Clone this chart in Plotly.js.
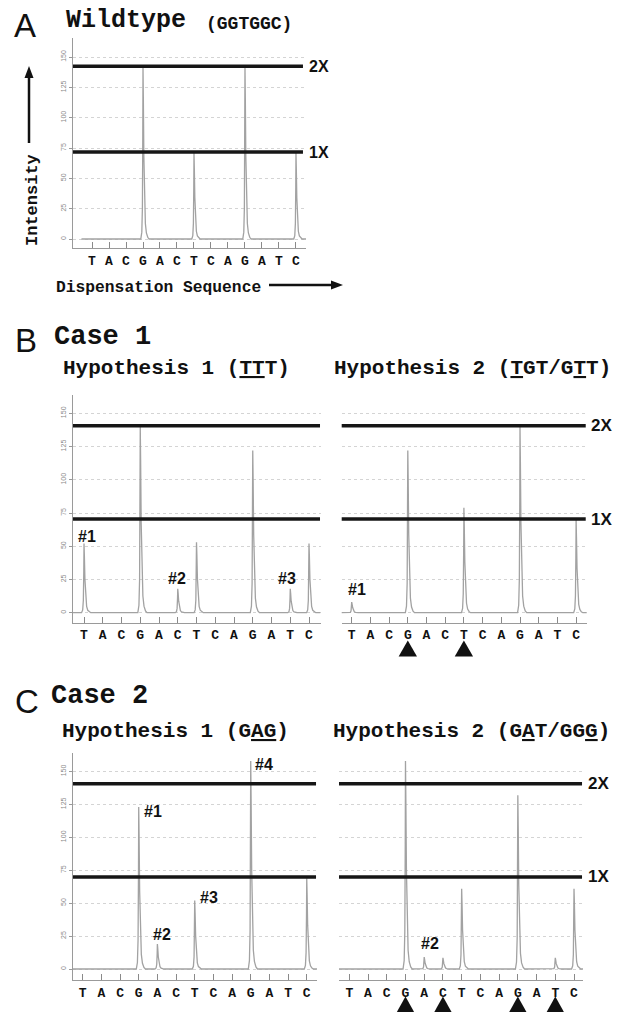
<!DOCTYPE html>
<html><head><meta charset="utf-8">
<script src="https://cdn.plot.ly/plotly-3.0.1.min.js"></script>
<style>html,body{margin:0;padding:0;background:#fff}#chart{width:622px;height:1012px}</style>
</head><body><div id="chart"></div>
<script>
// ---------------- data ----------------
const dispensation = ['T','A','C','G','A','C','T','C','A','G','A','T','C'];
const wildtypePeaks  = [0,0,0,142,0,0,71,0,0,142,0,0,71];
const case1Hyp1Peaks = [52,0,0,140,0,18,53,0,0,122,0,18,52];
const case1Hyp2Peaks = [8,0,0,122,0,0,79,0,0,140,0,0,70];
const case2Hyp1Peaks = [0,0,0,123,19,0,52,0,0,158,0,0,69];
const case2Hyp2Peaks = [0,0,0,158,9,8.5,61,0,0,132,0,8.5,61];
const intensityTicks = [0,25,50,75,100,125,150];
const level2X = [142.5, 140.7, 140.7, 140.7, 140.7];
const level1X = [71.7, 70.5, 70.5, 69.9, 69.9];
const case1Hyp1Labels = ['#1','#2','#3'];
const case1Hyp1LabelAt = [0,5,11];
const case1Hyp2Labels = ['#1'];
const case1Hyp2LabelAt = [0];
const case2Hyp1Labels = ['#1','#2','#3','#4'];
const case2Hyp1LabelAt = [3,4,6,9];
const case2Hyp2Labels = ['#2'];
const case2Hyp2LabelAt = [4];
const case1Hyp2Marked = [3,6];
const case2Hyp2Marked = [3,5,9,11];

// ---------------- style ----------------
const W = 622, H = 1012;
const MONO = "'Courier New', 'Liberation Mono', monospace";
const SANS = "Arial, 'Liberation Sans', Helvetica, sans-serif";
const PEAK_SHAPE = [[-0.13,0],[-0.07,0.04],[-0.035,0.18],[-0.012,0.6],[0,1],[0.02,0.82],[0.05,0.48],[0.09,0.22],[0.14,0.09],[0.2,0.035],[0.28,0.01],[0.36,0]];

function px(x){return x/W;}
function py(y){return 1-y/H;}
function pathPx(pts){return pts.map((p,i)=>(i?'L ':'M ')+px(p[0]).toFixed(5)+','+py(p[1]).toFixed(5)).join(' ')+' Z';}

function curve(heights, n){
  const xs=[-0.62], ys=[0];
  heights.forEach((h,i)=>{ if(h>0){ PEAK_SHAPE.forEach(([dx,f])=>{xs.push(i+dx); ys.push(h*f);}); } });
  xs.push(12.6); ys.push(0);
  return {type:'scatter', mode:'lines', x:xs, y:ys, xaxis:'x'+(n>1?n:''), yaxis:'y'+(n>1?n:''),
    line:{color:'#a2a2a2', width:1.3}, hoverinfo:'skip', showlegend:false};
}

// panel geometry in pixels: [left, right, top, bottom], x range, y range
const panels = [
  {peaks:wildtypePeaks,  box:[73,306,38,248],     xr:[-1.118,12.59], yr:[-7.4,165.7], yaxisShown:true},
  {peaks:case1Hyp1Peaks, box:[73,321,395,622.7],  xr:[-0.587,12.64], yr:[-7.52,163.8], yaxisShown:true},
  {peaks:case1Hyp2Peaks, box:[341.7,586.7,395,622.7], xr:[-0.535,12.567], yr:[-7.52,163.8], yaxisShown:false},
  {peaks:case2Hyp1Peaks, box:[73,317,753.3,980],  xr:[-0.52,12.55], yr:[-8.35,163.8], yaxisShown:true},
  {peaks:case2Hyp2Peaks, box:[339,583,753.3,980], xr:[-0.55,12.48], yr:[-8.35,163.8], yaxisShown:false}
];

const data = panels.map((p,i)=>curve(p.peaks, i+1));
const layout = {
  width:W, height:H, margin:{l:0,r:0,t:0,b:0},
  paper_bgcolor:'#fff', plot_bgcolor:'#fff', showlegend:false,
  shapes:[], annotations:[]
};

panels.forEach((p,i)=>{
  const n = i+1, s = n>1?n:'';
  layout['xaxis'+s] = {
    domain:[px(p.box[0]), px(p.box[1])], range:p.xr, anchor:'y'+s,
    tickmode:'array', tickvals:dispensation.map((d,k)=>k), ticktext:dispensation,
    ticks:'inside', ticklen:6, tickcolor:'#8a8a8a', tickwidth:1,
    showline:true, linecolor:'#9a9a9a', linewidth:1, showgrid:false, zeroline:false,
    tickfont:{family:MONO, size:13, color:'#111', weight:'bold'}, fixedrange:true
  };
  layout['yaxis'+s] = {
    domain:[py(p.box[3]), py(p.box[2])], range:p.yr, anchor:'x'+s,
    tickmode:'array', tickvals:intensityTicks,
    showgrid:true, gridcolor:'#d4d4d4', griddash:'dot', gridwidth:1, zeroline:false,
    showline:p.yaxisShown, linecolor:'#9a9a9a', linewidth:1,
    ticks:p.yaxisShown?'outside':'', ticklen:3, tickcolor:'#9a9a9a',
    showticklabels:p.yaxisShown, tickangle:-90,
    tickfont:{family:SANS, size:7, color:'#8a8a8a'}, fixedrange:true
  };
  const x1 = i===0 ? 0.987 : 0.996;
  [level2X[i], level1X[i]].forEach(v=>{
    layout.shapes.push({type:'line', xref:'x'+s+' domain', yref:'y'+s, x0:0, x1:x1, y0:v, y1:v,
      line:{color:'#161616', width:3.5}});
  });
});

// level labels
function levelLabel(text, xPx, n, v, size){
  const s = n>1?n:'';
  layout.annotations.push({text:'<b>'+text+'</b>', xref:'paper', yref:'y'+s, x:px(xPx), y:v,
    xanchor:'left', yanchor:'middle', showarrow:false, font:{family:SANS, size:size, color:'#111'}});
}
levelLabel('2X', 307, 1, level2X[0], 16); levelLabel('1X', 307, 1, level1X[0], 16);
levelLabel('2X', 589, 3, level2X[2], 17); levelLabel('1X', 589, 3, level1X[2], 17);
levelLabel('2X', 586, 5, level2X[4], 17); levelLabel('1X', 586, 5, level1X[4], 17);

// peak labels (pixel offsets from peak tip)
function peakLabels(texts, at, n, peaks, shifts){
  const s = n>1?n:'';
  texts.forEach((t,k)=>{
    layout.annotations.push({text:'<b>'+t+'</b>', xref:'x'+s, yref:'y'+s, x:at[k], y:peaks[at[k]],
      xanchor:'center', yanchor:'middle', xshift:shifts[k][0], yshift:shifts[k][1], showarrow:false,
      font:{family:SANS, size:16, color:'#111'}});
  });
}
peakLabels(case1Hyp1Labels, case1Hyp1LabelAt, 2, case1Hyp1Peaks, [[3,7.5],[-0.5,10],[-3,10]]);
peakLabels(case1Hyp2Labels, case1Hyp2LabelAt, 3, case1Hyp2Peaks, [[5,12.5]]);
peakLabels(case2Hyp1Labels, case2Hyp1LabelAt, 4, case2Hyp1Peaks, [[14.3,-4.7],[5,9],[14,3],[13.3,-4]]);
peakLabels(case2Hyp2Labels, case2Hyp2LabelAt, 5, case2Hyp2Peaks, [[5.3,13.7]]);

// marker triangles under marked dispensations
function marks(list, n, topPx, botPx, halfW){
  const s = n>1?n:'';
  list.forEach(k=>{
    layout.shapes.push({type:'path', xref:'x'+s, yref:'paper',
      path:'M '+(k-halfW)+','+py(botPx)+' L '+(k+halfW)+','+py(botPx)+' L '+k+','+py(topPx)+' Z',
      fillcolor:'#111', line:{width:0}});
  });
}
marks(case1Hyp2Marked, 3, 640.5, 656.5, 0.49);
marks(case2Hyp2Marked, 5, 996.5, 1013, 0.49);

// text
function txt(text, x, y, size, family, anchor, extra){
  layout.annotations.push(Object.assign({text:text, xref:'paper', yref:'paper', x:px(x), y:py(y),
    xanchor:anchor||'left', yanchor:'middle', showarrow:false, font:{family:family, size:size, color:'#111'}}, extra||{}));
}
txt('A', 25, 25.5, 33, SANS, 'center');
txt('<b>Wildtype</b>', 64, 20.5, 25, MONO);
txt('<b>(GGTGGC)</b>', 204, 24, 18, MONO);
txt('<b>Intensity</b>', 33, 200, 17, MONO, 'center', {textangle:-90});
txt('<b>Dispensation Sequence</b>', 54, 287, 16.3, MONO);
txt('B', 26, 340.5, 33, SANS, 'center');
txt('<b>Case 1</b>', 52, 336.5, 27, MONO);
txt('<b>Hypothesis 1 (<u>TT</u>T)</b>', 61, 368.5, 21, MONO);
txt('<b>Hypothesis 2 (<u>T</u>GT/G<u>T</u>T)</b>', 332, 368.5, 21, MONO);
txt('C', 26.5, 701.5, 33, SANS, 'center');
txt('<b>Case 2</b>', 49, 696, 27, MONO);
txt('<b>Hypothesis 1 (G<u>AG</u>)</b>', 60, 731.5, 21, MONO);
txt('<b>Hypothesis 2 (G<u>A</u>T/GG<u>G</u>)</b>', 331, 731, 21, MONO);

// axis arrows
layout.shapes.push({type:'line', xref:'paper', yref:'paper', x0:px(29), x1:px(29), y0:py(143), y1:py(76), line:{color:'#111', width:2.5}});
layout.shapes.push({type:'path', xref:'paper', yref:'paper', path:pathPx([[24.5,78],[29,66],[33.5,78]]), fillcolor:'#111', line:{width:0}});
layout.shapes.push({type:'line', xref:'paper', yref:'paper', x0:px(269), x1:px(333), y0:py(285), y1:py(285), line:{color:'#111', width:2.5}});
layout.shapes.push({type:'path', xref:'paper', yref:'paper', path:pathPx([[331,280.5],[343,285],[331,289.5]]), fillcolor:'#111', line:{width:0}});

Plotly.newPlot('chart', data, layout, {staticPlot:true, displayModeBar:false});
</script>
</body></html>
